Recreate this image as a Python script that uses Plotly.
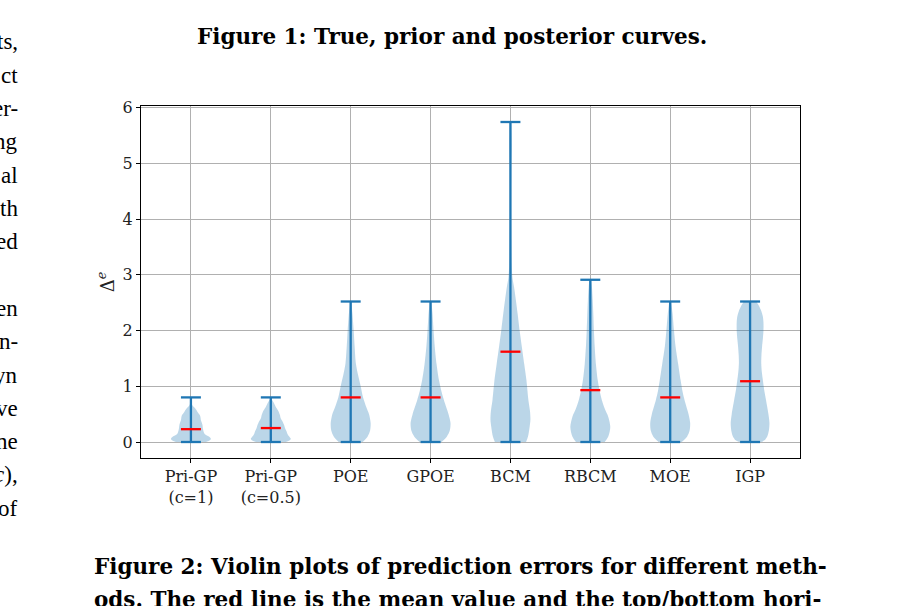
import plotly.graph_objects as go

# ---------------- data ----------------
methods = ["Pri-GP<br>(c=1)", "Pri-GP<br>(c=0.5)", "POE", "GPOE", "BCM", "RBCM", "MOE", "IGP"]
positions = [1, 2, 3, 4, 5, 6, 7, 8]
mins = [0.0, 0.0, 0.0, 0.0, 0.0, 0.0, 0.0, 0.0]
maxs = [0.80, 0.80, 2.52, 2.52, 5.74, 2.91, 2.52, 2.52]
means = [0.23, 0.25, 0.80, 0.80, 1.62, 0.93, 0.80, 1.09]

# relative density profiles (level, relative half-width)
prigp1_y = [0.0, 0.03, 0.06, 0.1, 0.14, 0.18, 0.24, 0.3, 0.35, 0.39, 0.44, 0.48, 0.54, 0.6, 0.63, 0.66, 0.72, 0.8]
prigp1_w = [0.75, 0.95, 1.0, 0.9, 0.7, 0.64, 0.6, 0.58, 0.54, 0.5, 0.48, 0.45, 0.33, 0.22, 0.15, 0.07, 0.02, 0.005]
prigp05_y = [0.0, 0.03, 0.06, 0.1, 0.14, 0.18, 0.24, 0.3, 0.36, 0.42, 0.48, 0.54, 0.6, 0.63, 0.68, 0.72, 0.76, 0.8]
prigp05_w = [0.75, 0.95, 1.0, 0.92, 0.84, 0.8, 0.72, 0.67, 0.6, 0.5, 0.46, 0.4, 0.3, 0.25, 0.18, 0.12, 0.06, 0.01]
poe_y = [0.0, 0.1, 0.2, 0.34, 0.5, 0.63, 0.8, 1.0, 1.2, 1.41, 1.7, 2.0, 2.3, 2.45, 2.52]
poe_w = [0.6, 0.85, 0.97, 1.0, 0.92, 0.78, 0.62, 0.5, 0.37, 0.26, 0.2, 0.15, 0.09, 0.05, 0.03]
gpoe_y = [0.0, 0.1, 0.2, 0.34, 0.5, 0.75, 0.9, 1.11, 1.4, 1.71, 2.0, 2.3, 2.45, 2.52]
gpoe_w = [0.55, 0.82, 0.96, 1.0, 0.9, 0.67, 0.55, 0.42, 0.3, 0.21, 0.15, 0.1, 0.06, 0.03]
bcm_y = [0.0, 0.1, 0.27, 0.4, 0.55, 0.75, 1.11, 1.4, 1.71, 2.0, 2.3, 2.55, 2.78, 2.95, 3.2, 3.6, 4.0, 4.5, 5.0, 5.3, 5.55, 5.74]
bcm_w = [0.78, 0.88, 0.96, 1.0, 0.98, 0.9, 0.8, 0.69, 0.57, 0.46, 0.36, 0.27, 0.18, 0.1, 0.06, 0.04, 0.03, 0.03, 0.04, 0.06, 0.05, 0.02]
rbcm_y = [0.0, 0.1, 0.27, 0.45, 0.6, 0.75, 0.93, 1.11, 1.4, 1.71, 2.0, 2.3, 2.55, 2.78, 2.91]
rbcm_w = [0.72, 0.9, 1.0, 0.9, 0.72, 0.58, 0.46, 0.37, 0.28, 0.22, 0.18, 0.15, 0.12, 0.08, 0.03]
moe_y = [0.0, 0.1, 0.2, 0.34, 0.5, 0.75, 0.9, 1.11, 1.4, 1.71, 2.0, 2.3, 2.45, 2.52]
moe_w = [0.58, 0.85, 0.97, 1.0, 0.92, 0.72, 0.62, 0.52, 0.4, 0.27, 0.19, 0.12, 0.07, 0.03]
igp_y = [0.0, 0.03, 0.1, 0.2, 0.34, 0.5, 0.75, 0.95, 1.11, 1.25, 1.41, 1.56, 1.71, 1.85, 2.0, 2.15, 2.25, 2.35, 2.43, 2.48, 2.52]
igp_w = [0.55, 0.72, 0.86, 0.94, 0.97, 0.92, 0.8, 0.7, 0.64, 0.59, 0.56, 0.57, 0.6, 0.64, 0.67, 0.67, 0.64, 0.56, 0.46, 0.38, 0.3]

profiles = [
    (prigp1_y, prigp1_w), (prigp05_y, prigp05_w), (poe_y, poe_w), (gpoe_y, gpoe_w),
    (bcm_y, bcm_w), (rbcm_y, rbcm_w), (moe_y, moe_w), (igp_y, igp_w),
]

# ---------------- styling ----------------
HALF = 0.25   # matplotlib widths=0.5
CAP = 0.125
BLUE = "#1f77b4"
FILL = "rgba(31,119,180,0.3)"
LW = 2.3

fig = go.Figure()

for pos, (py, pw) in zip(positions, profiles):
    xs = [pos + HALF * w for w in pw] + [pos - HALF * w for w in reversed(pw)]
    ys = list(py) + list(reversed(py))
    fig.add_trace(go.Scatter(x=xs, y=ys, mode="lines", fill="toself", fillcolor=FILL,
                             line=dict(width=0, shape="spline", smoothing=0.8),
                             hoverinfo="skip", showlegend=False))

# stems
sx, sy = [], []
for pos, lo, hi in zip(positions, mins, maxs):
    sx += [pos, pos, None]
    sy += [lo, hi, None]
fig.add_trace(go.Scatter(x=sx, y=sy, mode="lines", line=dict(color=BLUE, width=LW),
                         showlegend=False, hoverinfo="skip"))
# caps
cx, cy = [], []
for pos, lo, hi in zip(positions, mins, maxs):
    cx += [pos - CAP, pos + CAP, None, pos - CAP, pos + CAP, None]
    cy += [lo, lo, None, hi, hi, None]
fig.add_trace(go.Scatter(x=cx, y=cy, mode="lines", line=dict(color=BLUE, width=LW),
                         showlegend=False, hoverinfo="skip"))
# means
mx, my = [], []
for pos, m in zip(positions, means):
    mx += [pos - CAP, pos + CAP, None]
    my += [m, m, None]
fig.add_trace(go.Scatter(x=mx, y=my, mode="lines", line=dict(color="red", width=LW),
                         showlegend=False, hoverinfo="skip"))

TICKFONT = dict(family="DejaVu Serif, serif", size=16, color="#222")

fig.update_layout(
    width=902, height=606,
    margin=dict(l=141, r=102, t=106, b=148),
    paper_bgcolor="white", plot_bgcolor="white",
    xaxis=dict(range=[0.375, 8.625], tickvals=positions, ticktext=methods,
               showgrid=True, gridcolor="#b0b0b0", gridwidth=1,
               showline=True, mirror=True, linecolor="black", linewidth=1,
               ticks="outside", ticklen=4, tickcolor="black",
               tickfont=TICKFONT, zeroline=False, fixedrange=True),
    yaxis=dict(range=[-0.287, 6.027], tickvals=[0, 1, 2, 3, 4, 5, 6],
               showgrid=True, gridcolor="#b0b0b0", gridwidth=1,
               showline=True, mirror=True, linecolor="black", linewidth=1,
               ticks="outside", ticklen=4, tickcolor="black",
               tickfont=TICKFONT, zeroline=False, fixedrange=True,
               title=dict(text="Δ<sup><i>e</i></sup>", standoff=3,
                          font=dict(family="DejaVu Serif, serif", size=18, color="#222"))),
)

CAPFONT = dict(family="DejaVu Serif, serif", size=21.5, color="black")
fig.add_annotation(text="<b>Figure 1: True, prior and posterior curves.</b>",
                   xref="paper", yref="paper", x=(452 - 141) / 659, y=1 + (106 - 36) / 352,
                   xanchor="center", yanchor="middle", showarrow=False, font=CAPFONT)
fig.add_annotation(text="<b>Figure 2: Violin plots of prediction errors for different meth-</b>",
                   xref="paper", yref="paper", x=(92 - 141) / 659, y=-(566 - 458) / 352,
                   xanchor="left", yanchor="middle", showarrow=False, font=CAPFONT)
fig.add_annotation(text="<b>ods. The red line is the mean value and the top/bottom hori-</b>",
                   xref="paper", yref="paper", x=(92 - 141) / 659, y=-(599 - 458) / 352,
                   xanchor="left", yanchor="middle", showarrow=False, font=CAPFONT)

left_frags = ["ts,", "ct", "er-", "ng", "al", "th", "ed", "", "en", "n-", "yn", "ve", "ne", "<i>c</i>),", "of"]
for i, t in enumerate(left_frags):
    if not t:
        continue
    yp = 42 + i * 33.3
    fig.add_annotation(text=t, xref="paper", yref="paper",
                       x=(20 - 141) / 659, y=1 - (yp - 106) / 352,
                       xanchor="right", yanchor="middle", showarrow=False,
                       font=dict(family="Liberation Serif, serif", size=23, color="black"))

fig.write_html("out.html")
